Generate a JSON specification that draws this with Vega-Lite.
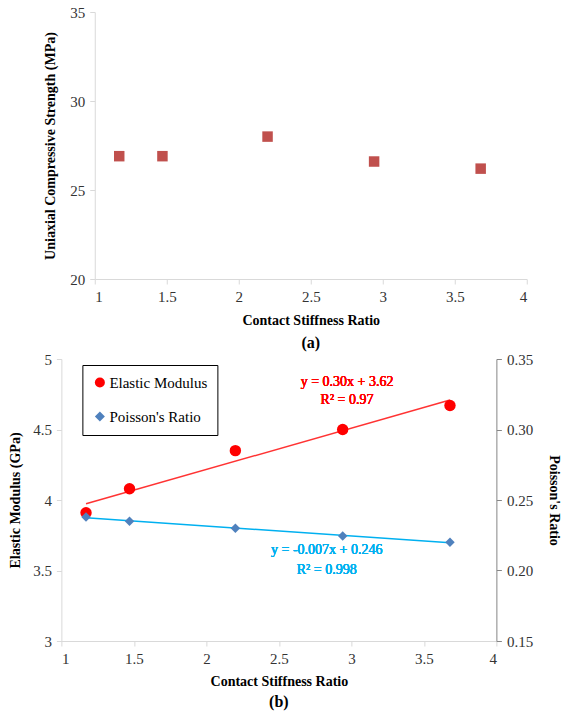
{
  "$schema": "https://vega.github.io/schema/vega-lite/v6.json",
  "padding": {"left": 8, "top": 5, "right": 0, "bottom": 2},
  "background": "white",
  "datasets": {
    "ucs": [
      {"ratio": 1.17, "ucs": 26.9},
      {"ratio": 1.47, "ucs": 26.9},
      {"ratio": 2.2, "ucs": 28.0},
      {"ratio": 2.94, "ucs": 26.6},
      {"ratio": 3.68, "ucs": 26.2}
    ],
    "em": [
      {"ratio": 1.17, "value": 3.91, "series": "Elastic Modulus"},
      {"ratio": 1.47, "value": 4.08, "series": "Elastic Modulus"},
      {"ratio": 2.2, "value": 4.35, "series": "Elastic Modulus"},
      {"ratio": 2.94, "value": 4.5, "series": "Elastic Modulus"},
      {"ratio": 3.68, "value": 4.67, "series": "Elastic Modulus"}
    ],
    "pr": [
      {"ratio": 1.17, "value": 0.238, "series": "Poisson's Ratio"},
      {"ratio": 1.47, "value": 0.235, "series": "Poisson's Ratio"},
      {"ratio": 2.2, "value": 0.23, "series": "Poisson's Ratio"},
      {"ratio": 2.94, "value": 0.2245, "series": "Poisson's Ratio"},
      {"ratio": 3.68, "value": 0.22, "series": "Poisson's Ratio"}
    ]
  },
  "config": {
    "font": "Liberation Serif, serif",
    "view": {"stroke": null},
    "axis": {
      "grid": false,
      "labelFont": "Liberation Serif, serif",
      "labelFontSize": 15,
      "labelColor": "#333333",
      "titleFont": "Liberation Serif, serif",
      "titleFontSize": 14,
      "titleFontWeight": "bold",
      "titleColor": "#000000",
      "domainColor": "#d9d9d9",
      "tickColor": "#d9d9d9",
      "tickSize": 5,
      "labelPadding": 5
    },
    "legend": {"labelFont": "Liberation Serif, serif"},
    "text": {"font": "Liberation Serif, serif", "fontWeight": "normal"},
    "title": {"font": "Liberation Serif, serif", "fontSize": 16, "fontWeight": "bold", "color": "#000000"}
  },
  "spacing": 1,
  "center": true,
  "resolve": {"legend": {"color": "independent", "shape": "independent"}},
  "vconcat": [
    {
      "width": 432,
      "height": 267,
      "data": {"name": "ucs"},
      "title": {"text": "(a)", "orient": "bottom", "offset": 8},
      "mark": {"type": "square", "color": "#C0504D", "opacity": 1, "size": 110, "filled": true},
      "encoding": {
        "x": {"field": "ratio", "type": "quantitative", "scale": {"domain": [1, 4], "nice": false, "zero": false},
              "axis": {"values": [1, 1.5, 2, 2.5, 3, 3.5, 4], "format": "~g", "title": "Contact  Stiffness Ratio", "titlePadding": 9}},
        "y": {"field": "ucs", "type": "quantitative", "scale": {"domain": [20, 35], "nice": false, "zero": false},
              "axis": {"values": [20, 25, 30, 35], "title": "Uniaxial  Compressive  Strength (MPa)", "titlePadding": 12}}
      }
    },
    {
      "width": 435,
      "height": 282,
      "title": {"text": "(b)", "orient": "bottom", "offset": 6},
      "layer": [
        {
          "data": {"name": "em"},
          "layer": [
            {
              "transform": [{"regression": "value", "on": "ratio"}],
              "mark": {"type": "line", "color": "#FF3333", "strokeWidth": 1.5},
              "encoding": {
                "x": {"field": "ratio", "type": "quantitative"},
                "y": {"field": "value", "type": "quantitative"}
              }
            },
            {
              "mark": {"type": "point", "filled": true, "opacity": 1, "size": 130},
              "encoding": {
                "x": {"field": "ratio", "type": "quantitative", "scale": {"domain": [1, 4], "nice": false, "zero": false},
                      "axis": {"values": [1, 1.5, 2, 2.5, 3, 3.5, 4], "format": "~g", "title": "Contact  Stiffness Ratio", "titlePadding": 8}},
                "y": {"field": "value", "type": "quantitative", "scale": {"domain": [3, 5], "nice": false, "zero": false},
                      "axis": {"values": [3, 3.5, 4, 4.5, 5], "format": "~g", "title": "Elastic Modulus  (GPa)", "titlePadding": 10}},
                "color": {"field": "series", "type": "nominal",
                          "scale": {"domain": ["Elastic Modulus", "Poisson's Ratio"], "range": ["#FF0000", "#4F81BD"]},
                          "legend": {"title": null, "orient": "none", "legendX": 21, "legendY": 6, "direction": "vertical",
                                     "strokeColor": "#000000", "padding": 10, "rowPadding": 18,
                                     "labelFontSize": 15, "labelColor": "#000000",
                                     "symbolSize": 100, "labelOffset": 2, "fillColor": "white"}},
                "shape": {"field": "series", "type": "nominal",
                          "scale": {"domain": ["Elastic Modulus", "Poisson's Ratio"], "range": ["circle", "diamond"]},
                          "legend": null}
              }
            },
            {
              "mark": {"type": "text", "color": "#FF0000", "fontSize": 14, "fontWeight": 400, "font": "Liberation Serif, serif"},
              "encoding": {
                "x": {"datum": 2.97, "type": "quantitative"},
                "y": {"datum": 4.835, "type": "quantitative"},
                "text": {"value": "y = 0.30x  + 3.62"}
              }
            },
            {
              "mark": {"type": "text", "color": "#FF0000", "fontSize": 14, "fontWeight": 400, "font": "Liberation Serif, serif"},
              "encoding": {
                "x": {"datum": 2.97, "type": "quantitative"},
                "y": {"datum": 4.707, "type": "quantitative"},
                "text": {"value": "R² = 0.97"}
              }
            },
            {
              "mark": {"type": "text", "color": "#00B0F0", "fontSize": 14, "fontWeight": 400, "font": "Liberation Serif, serif"},
              "encoding": {
                "x": {"datum": 2.83, "type": "quantitative"},
                "y": {"datum": 3.642, "type": "quantitative"},
                "text": {"value": "y = -0.007x  + 0.246"}
              }
            },
            {
              "mark": {"type": "text", "color": "#00B0F0", "fontSize": 14, "fontWeight": 400, "font": "Liberation Serif, serif"},
              "encoding": {
                "x": {"datum": 2.83, "type": "quantitative"},
                "y": {"datum": 3.507, "type": "quantitative"},
                "text": {"value": "R² = 0.998"}
              }
            }
          ]
        },
        {
          "data": {"name": "pr"},
          "layer": [
            {
              "transform": [{"regression": "value", "on": "ratio"}],
              "mark": {"type": "line", "color": "#00B0F0", "strokeWidth": 1.5},
              "encoding": {
                "x": {"field": "ratio", "type": "quantitative"},
                "y": {"field": "value", "type": "quantitative"}
              }
            },
            {
              "mark": {"type": "point", "filled": true, "opacity": 1, "size": 90},
              "encoding": {
                "x": {"field": "ratio", "type": "quantitative"},
                "y": {"field": "value", "type": "quantitative", "scale": {"domain": [0.15, 0.35], "nice": false, "zero": false},
                      "axis": {"orient": "right", "values": [0.15, 0.2, 0.25, 0.3, 0.35], "format": ".2f",
                               "title": "Poisson's Ratio", "titlePadding": 14,
                               "domainColor": "#868686", "tickColor": "#868686"}},
                "color": {"field": "series", "type": "nominal"},
                "shape": {"field": "series", "type": "nominal"}
              }
            }
          ]
        }
      ],
      "resolve": {"scale": {"y": "independent"}}
    }
  ]
}
